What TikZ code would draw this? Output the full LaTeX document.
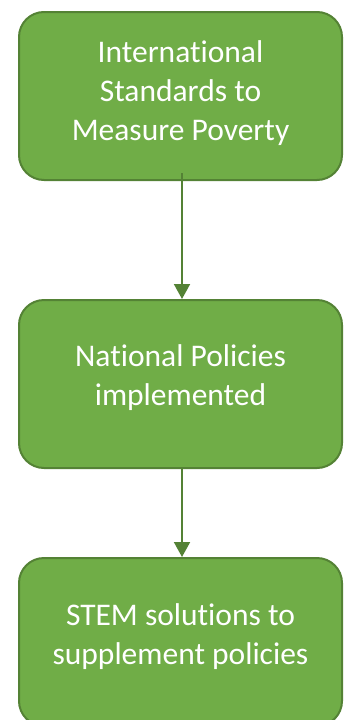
\documentclass[tikz,border=0pt]{standalone}
\usepackage{fontspec}
\setmainfont[Ligatures=CommonOff]{Carlito}
\usetikzlibrary{arrows.meta}
\definecolor{boxfill}{HTML}{70AD47}
\definecolor{boxline}{HTML}{548235}
\begin{document}
\begin{tikzpicture}[x=1pt,y=-1pt,
  stagebox/.style={draw=boxline, fill=boxfill, line width=2pt,
    rounded corners=25pt, minimum width=323pt, minimum height=168pt, inner sep=0pt},
  stagetext/.style={text=white, align=center, inner sep=0pt,
    font=\fontsize{31.5}{39}\selectfont},
  flow/.style={draw=boxline, line width=2pt,
    -{Triangle[width=16pt,length=15pt]}}]
  \useasboundingbox (0,0) rectangle (343,720);
  % three stages
  \node[stagebox] (b1) at (180.5,96) {};
  \node[stagebox] (b2) at (180.5,384) {};
  \node[stagebox] (b3) at (180.5,642) {};
  % captions
  \node[stagetext, yshift=2.5pt] (t1) at (b1.center) {International\\Standards to\\Measure Poverty};
  \node[stagetext, yshift=6.5pt] (t2) at (b2.center) {National Policies\\implemented};
  \node[stagetext, yshift=5.5pt] (t3) at (b3.center) {STEM solutions to\\supplement policies};
  % flow between stages
  \draw[flow] ([xshift=1.5pt,yshift=8pt]b1.south) -- ([xshift=1.5pt]b2.north);
  \draw[flow] ([xshift=1.5pt]b2.south) -- ([xshift=1.5pt]b3.north);
\end{tikzpicture}
\end{document}
